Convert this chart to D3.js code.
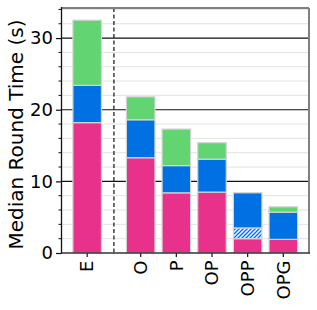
<!DOCTYPE html>
<html>
<head>
<meta charset="utf-8">
<script src="https://cdn.jsdelivr.net/npm/d3@7"></script>
<style>
  body { margin: 0; background: #fff; }
  svg { display: block; font-family: "DejaVu Sans", sans-serif; }
</style>
</head>
<body>
<svg id="chart"></svg>
<script>
// data
const categories = ['E', 'O', 'P', 'OP', 'OPP', 'OPG'];
const baseSeg   = [18.2, 13.3, 8.4, 8.5, 2.0, 1.9];   // pink
const hatchSeg  = [0, 0, 0, 0, 1.5, 0];               // hatched blue
const midSeg    = [5.2, 5.3, 3.8, 4.6, 4.9, 3.8];     // blue
const topSeg    = [9.1, 3.2, 5.1, 2.3, 0, 0.75];      // green
const yTicks = [0, 10, 20, 30];

const width = 317, height = 310;
const margin = { top: 8, right: 8, bottom: 57, left: 61.5 };

const rows = categories.map((c, i) => ({
  cat: c, slot: i === 0 ? 0 : i + 0.5,
  base: baseSeg[i], hatch: hatchSeg[i], mid: midSeg[i], top: topSeg[i]
}));
const keys = ['base', 'hatch', 'mid', 'top'];
const fills = { base: '#e8318a', hatch: 'url(#hatch)', mid: '#0170e2', top: '#63d472' };

const svg = d3.select('#chart').attr('width', width).attr('height', height);

// hatch pattern
const pat = svg.append('defs').append('pattern')
  .attr('id', 'hatch').attr('patternUnits', 'userSpaceOnUse')
  .attr('width', 4).attr('height', 4);
pat.append('rect').attr('width', 4).attr('height', 4).attr('fill', '#f4f8ff');
pat.append('path').attr('d', 'M-1,1 l2,-2 M0,4 l4,-4 M3,5 l2,-2')
  .attr('stroke', '#0170e2').attr('stroke-width', 1.3);

const x = d3.scaleLinear().domain([-0.72, 6.22]).range([margin.left, width - margin.right]);
const y = d3.scaleLinear().domain([0, 34.2]).range([height - margin.bottom, margin.top]);
const barW = (x(0.8) - x(0));

// grid
const minor = d3.range(2, 35, 2).filter(v => v % 10 !== 0);
svg.append('g').selectAll('line').data(minor).join('line')
  .attr('x1', x.range()[0]).attr('x2', x.range()[1])
  .attr('y1', d => y(d)).attr('y2', d => y(d))
  .attr('stroke', '#e2e2e2').attr('stroke-width', 1);
svg.append('g').selectAll('line').data(yTicks.slice(1)).join('line')
  .attr('x1', x.range()[0]).attr('x2', x.range()[1])
  .attr('y1', d => y(d)).attr('y2', d => y(d))
  .attr('stroke', '#111').attr('stroke-width', 1.2);

// separator between E and the rest
svg.append('line')
  .attr('x1', x(0.75)).attr('x2', x(0.75))
  .attr('y1', y.range()[1]).attr('y2', y.range()[0])
  .attr('stroke', '#111').attr('stroke-width', 1.2).attr('stroke-dasharray', '4,2.5');

// stacked bars
const stacked = d3.stack().keys(keys)(rows);
svg.append('g').selectAll('g').data(stacked).join('g')
  .attr('fill', d => fills[d.key])
  .selectAll('rect').data(d => d.filter(s => s[1] - s[0] > 0)).join('rect')
  .attr('x', d => x(d.data.slot) - barW / 2)
  .attr('width', barW)
  .attr('y', d => y(d[1]))
  .attr('height', d => y(d[0]) - y(d[1]))
  .attr('stroke', '#d4d4d4').attr('stroke-width', 1.2);

// axes
const yAxis = svg.append('g').attr('transform', `translate(${margin.left},0)`)
  .call(d3.axisLeft(y).tickValues(yTicks).tickSize(5.5).tickPadding(3).tickFormat(d3.format('d')));
yAxis.select('.domain').remove();
yAxis.selectAll('text').attr('font-size', 18).attr('fill', '#000').attr('font-family', 'DejaVu Sans');
yAxis.selectAll('line').attr('stroke', '#111').attr('stroke-width', 1.2);
svg.append('g').selectAll('line').data(d3.range(2, 35, 2).filter(v => v % 10 !== 0)).join('line')
  .attr('x1', margin.left - 3).attr('x2', margin.left)
  .attr('y1', d => y(d)).attr('y2', d => y(d))
  .attr('stroke', '#111').attr('stroke-width', 1);

const xAxis = svg.append('g').attr('transform', `translate(0,${y(0)})`);
xAxis.selectAll('line').data(rows).join('line')
  .attr('x1', d => x(d.slot)).attr('x2', d => x(d.slot))
  .attr('y1', 0).attr('y2', 4)
  .attr('stroke', '#111').attr('stroke-width', 1.2);
xAxis.selectAll('text').data(rows).join('text')
  .attr('transform', d => `translate(${x(d.slot)},7.5) rotate(-90)`)
  .attr('text-anchor', 'end').attr('dy', '0.35em')
  .attr('font-size', 18).text(d => d.cat);

// spines
const [x0, x1] = x.range(), [yb, yt] = y.range();
svg.append('line').attr('x1', x0).attr('x2', x1).attr('y1', yt).attr('y2', yt)
  .attr('stroke', '#808080').attr('stroke-width', 2);
svg.append('line').attr('x1', x1).attr('x2', x1).attr('y1', yt).attr('y2', yb)
  .attr('stroke', '#808080').attr('stroke-width', 2);
svg.append('line').attr('x1', x0).attr('x2', x0).attr('y1', yt - 1).attr('y2', yb + 0.6)
  .attr('stroke', '#111').attr('stroke-width', 1.3);
svg.append('line').attr('x1', x0).attr('x2', x1 + 1).attr('y1', yb).attr('y2', yb)
  .attr('stroke', '#333').attr('stroke-width', 1.3);

// y label
svg.append('text')
  .attr('transform', `translate(23,134.5) rotate(-90)`)
  .attr('text-anchor', 'middle').attr('font-size', 20)
  .text('Median Round Time (s)');
</script>
</body>
</html>
